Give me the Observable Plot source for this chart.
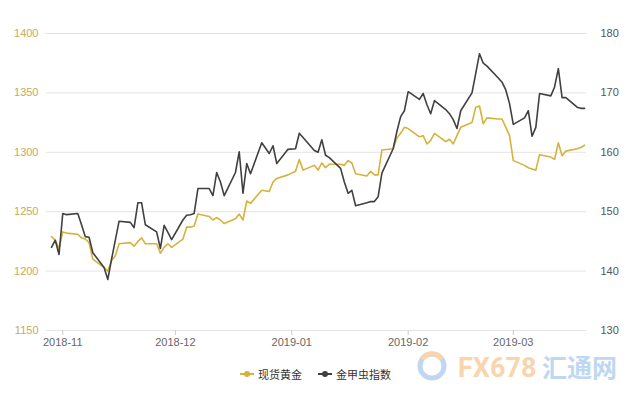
<!DOCTYPE html>
<html><head><meta charset="utf-8">
<script src="https://cdn.jsdelivr.net/npm/d3@7"></script>
<script src="https://cdn.jsdelivr.net/npm/@observablehq/plot@0.6"></script>
<style>
html,body{margin:0;padding:0;background:#fff;}
body{width:640px;height:400px;position:relative;overflow:hidden;font-family:"Liberation Sans","Noto Sans CJK SC",sans-serif;}
#chart{position:absolute;left:0;top:0;}
.legend{position:absolute;top:366px;left:240px;font-size:11px;color:#333;font-family:"Noto Sans CJK SC",sans-serif;display:flex;gap:16px;align-items:center;}
.legend span{display:flex;align-items:center;gap:4px;}
.wm{position:absolute;left:414px;top:348px;opacity:0.55;overflow:visible;}
</style></head>
<body>
<div id="chart"></div>
<div class="legend">
  <span><svg width="14" height="8"><line x1="0" y1="4" x2="14" y2="4" stroke="#d6b23c" stroke-width="2"/><circle cx="7" cy="4" r="3" fill="#d6b23c"/></svg>现货黄金</span>
  <span><svg width="14" height="8"><line x1="0" y1="4" x2="14" y2="4" stroke="#404040" stroke-width="2"/><circle cx="7" cy="4" r="3" fill="#404040"/></svg>金甲虫指数</span>
</div>
<svg class="wm" width="226" height="42">
  <circle cx="18" cy="18" r="12" fill="none" stroke="#8db8e8" stroke-width="5"/>
  <path d="M8 11 A12 12 0 0 1 28 11" fill="none" stroke="#f6b26b" stroke-width="5"/>
  <text x="44" y="29" font-family="Roboto" font-weight="bold" font-size="27" fill="#f6b26b">FX678</text>
  <text x="128" y="29" font-family="Noto Sans CJK SC" font-weight="bold" font-size="25" fill="#8db8e8">汇通网</text>
</svg>
<script>
const dates = ["2018-10-29","2018-10-30","2018-10-31","2018-11-01","2018-11-02","2018-11-05","2018-11-06","2018-11-07","2018-11-08","2018-11-09",
"2018-11-12","2018-11-13","2018-11-14","2018-11-15","2018-11-16","2018-11-19","2018-11-20","2018-11-21","2018-11-22","2018-11-23",
"2018-11-26","2018-11-27","2018-11-28","2018-11-29","2018-11-30","2018-12-03","2018-12-04","2018-12-05","2018-12-06","2018-12-07",
"2018-12-10","2018-12-11","2018-12-12","2018-12-13","2018-12-14","2018-12-17","2018-12-18","2018-12-19","2018-12-20","2018-12-21",
"2018-12-24","2018-12-26","2018-12-27","2018-12-28","2018-12-31","2019-01-02","2019-01-03","2019-01-04","2019-01-07","2019-01-08",
"2019-01-09","2019-01-10","2019-01-11","2019-01-14","2019-01-15","2019-01-16","2019-01-17","2019-01-18","2019-01-21","2019-01-22",
"2019-01-23","2019-01-24","2019-01-25","2019-01-28","2019-01-29","2019-01-30","2019-01-31","2019-02-01","2019-02-04","2019-02-05",
"2019-02-06","2019-02-07","2019-02-08","2019-02-11","2019-02-12","2019-02-13","2019-02-14","2019-02-15","2019-02-18","2019-02-19",
"2019-02-20","2019-02-21","2019-02-22","2019-02-25","2019-02-26","2019-02-27","2019-02-28","2019-03-01","2019-03-04","2019-03-05",
"2019-03-06","2019-03-07","2019-03-08","2019-03-11","2019-03-12","2019-03-13","2019-03-14","2019-03-15","2019-03-18","2019-03-19","2019-03-20"];

const gold = [1229,1226,1219,1233,1232,1231,1228,1227,1224,1210,
1203,1200,1209,1213,1223,1224,1221,1225,1228,1223,
1223,1215,1220,1223,1220,1227,1237,1237,1238,1248,
1246,1243,1245,1243,1240,1244,1248,1243,1259,1257,
1268,1267,1275,1278,1281,1284,1294,1285,1289,1285,
1291,1287,1290,1290,1289,1293,1291,1282,1280,1284,
1281,1281,1302,1303,1312,1316,1321,1320,1313,1314,
1307,1310,1316,1309,1311,1307,1314,1321,1325,1338,
1339,1324,1329,1328,1328,1321,1314,1293,1289,1287,
1286,1285,1298,1296,1294,1308,1297,1301,1303,1304,1306];

const bugs = [144.0,145.2,142.8,149.7,149.5,149.7,147.8,145.8,145.7,143.1,
140.6,138.6,142.0,145.2,148.4,148.2,147.3,151.5,151.5,147.8,
146.6,143.8,147.7,146.5,145.3,148.6,149.4,149.5,149.7,153.9,
153.9,152.7,156.6,155.0,152.7,156.6,160.1,153.1,158.1,156.4,
161.6,159.8,161.1,158.1,160.5,160.6,163.2,162.5,160.3,160.0,
162.1,159.5,159.1,157.3,155.0,153.1,153.6,151.0,151.5,151.7,
151.7,152.5,156.5,160.6,163.5,166.0,167.0,170.2,168.9,169.9,
168.0,166.5,168.7,167.2,166.5,165.5,164.0,167.0,170.0,173.3,
176.6,175.0,174.5,172.5,171.8,170.5,168.2,164.7,165.8,167.0,
162.7,164.2,169.9,169.5,171.0,174.1,169.2,169.2,167.6,167.4,167.4];

const leftTicks = [1150,1200,1250,1300,1350,1400];
const rightTicks = [130,140,150,160,170,180];

const toLeft = v => 1150 + (v - 130) * 5;
const rows = dates.map((d, i) => ({date: new Date(d + "T00:00:00Z"), gold: gold[i], bugs: bugs[i]}));

const chart = Plot.plot({
  width: 640,
  height: 355,
  marginLeft: 46,
  marginRight: 54,
  marginTop: 33,
  marginBottom: 25,
  style: {fontFamily: "Liberation Sans, sans-serif", fontSize: "11px", background: "transparent"},
  x: {type: "utc", domain: [new Date(Date.UTC(2018,9,27,16)), new Date(Date.UTC(2019,2,20,12))]},
  y: {domain: [1150, 1400]},
  marks: [
    Plot.gridY(leftTicks, {stroke: "#e4e4e4", strokeOpacity: 1}),
    Plot.axisY(leftTicks, {anchor: "left", tickSize: 0, tickPadding: 8, label: null, fill: "#c9a95c",
      tickFormat: v => String(v)}),
    Plot.axisY(rightTicks.map(toLeft), {anchor: "right", tickSize: 0, tickPadding: 14, label: null, fill: "#555",
      tickFormat: v => String(Math.round(130 + (v - 1150) / 5))}),
    Plot.axisX({ticks: d3.utcMonth.every(1), tickFormat: d3.utcFormat("%Y-%m"), tickSize: 5, tickPadding: 3,
      stroke: "#cccccc", fill: "#666", label: null}),
    Plot.line(rows, {x: "date", y: "gold", stroke: "#d6b23c", strokeWidth: 1.6}),
    Plot.line(rows, {x: "date", y: d => toLeft(d.bugs), stroke: "#404040", strokeWidth: 1.6})
  ]
});
document.getElementById("chart").appendChild(chart);
</script>
</body></html>
